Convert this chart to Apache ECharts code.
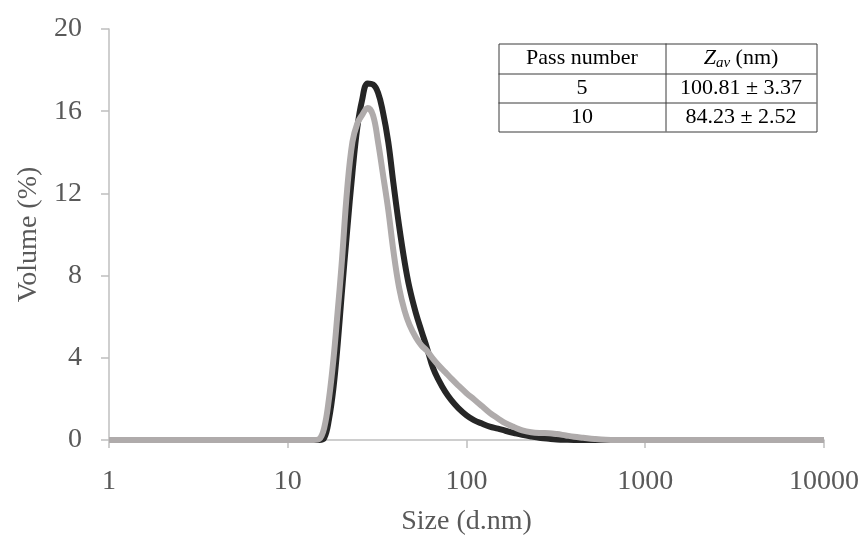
<!DOCTYPE html>
<html>
<head>
<meta charset="utf-8">
<script src="https://cdn.jsdelivr.net/npm/echarts@6/dist/echarts.min.js"></script>
<style>
  html, body { margin: 0; padding: 0; background: #fff; }
  #main { width: 865px; height: 536px; }
</style>
</head>
<body>
<div id="main"></div>
<script>
// particle size bins (d.nm)
var sizes = [1, 14, 15, 16, 17, 18, 19, 20, 21.5, 23, 24.5, 26, 28, 30, 32, 34, 36.5, 39, 42, 45,
             48, 52, 56, 60, 65, 70, 76, 82, 90, 100, 110, 122, 135, 150, 165, 185, 205, 230,
             260, 290, 320, 360, 400, 450, 520, 600, 700, 1000, 10000];

// volume (%) - pass 5 (black)
var pass5 = [0, 0, 0, 0.1, 1.0, 2.5, 4.6, 7.0, 10.2, 13.0, 15.2, 16.5, 17.35, 17.3, 16.9, 16.0, 14.5, 12.5, 10.4, 8.7,
             7.4, 6.2, 5.3, 4.5, 3.5, 2.9, 2.35, 1.95, 1.55, 1.2, 0.97, 0.8, 0.65, 0.55, 0.45, 0.34, 0.25, 0.17,
             0.1, 0.06, 0.03, 0.01, 0, 0, 0, 0, 0, 0, 0];

// volume (%) - pass 10 (grey)
var pass10 = [0, 0, 0.05, 0.6, 2.0, 3.9, 6.2, 8.5, 12.2, 14.5, 15.4, 15.8, 16.15, 15.8, 14.5, 13.0, 11.2, 9.2, 7.4, 6.3,
              5.6, 5.0, 4.6, 4.35, 3.95, 3.62, 3.3, 3.0, 2.65, 2.28, 1.98, 1.65, 1.32, 1.05, 0.82, 0.62, 0.47, 0.38,
              0.34, 0.33, 0.29, 0.22, 0.16, 0.11, 0.05, 0.01, 0, 0, 0];

var xTicks = [1, 10, 100, 1000, 10000];
var yTicks = [0, 4, 8, 12, 16, 20];

// inset table
var tableHead = ['Pass number', '{i|Z}{s|av} (nm)'];
var passNumbers = ['5', '10'];
var zav = ['100.81 \u00b1 3.37', '84.23 \u00b1 2.52'];

var serif = '"Liberation Serif", "Times New Roman", serif';
var axisGrey = '#bfbfbf';
var labelGrey = '#595959';

function pairs(xs, ys) {
    var out = [];
    for (var i = 0; i < xs.length; i++) out.push([xs[i], ys[i]]);
    return out;
}

function buildTable() {
    var w = 318, h = 88, colX = 167, rowH = [30, 59];
    var txt = { fontFamily: serif, fontSize: 22, fill: '#000', align: 'center', verticalAlign: 'middle' };
    var children = [
        { type: 'rect', shape: { x: 0.5, y: 0.5, width: w, height: h }, style: { fill: '#fff', stroke: '#3a3a3a', lineWidth: 1 } },
        { type: 'line', shape: { x1: colX + 0.5, y1: 0, x2: colX + 0.5, y2: h }, style: { stroke: '#3a3a3a', lineWidth: 1 } },
        { type: 'line', shape: { x1: 0, y1: rowH[0] + 0.5, x2: w, y2: rowH[0] + 0.5 }, style: { stroke: '#3a3a3a', lineWidth: 1 } },
        { type: 'line', shape: { x1: 0, y1: rowH[1] + 0.5, x2: w, y2: rowH[1] + 0.5 }, style: { stroke: '#3a3a3a', lineWidth: 1 } }
    ];
    var centres = [colX / 2, (colX + w) / 2];
    var rowMid = [15, 45, 74];
    children.push({ type: 'text', x: centres[0], y: rowMid[0], style: Object.assign({ text: tableHead[0] }, txt) });
    children.push({ type: 'text', x: centres[1], y: rowMid[0], style: Object.assign({
        text: tableHead[1],
        rich: {
            i: { fontFamily: serif, fontSize: 22, fontStyle: 'italic', lineHeight: 24, fill: '#000' },
            s: { fontFamily: serif, fontSize: 15, fontStyle: 'italic', lineHeight: 15, verticalAlign: 'bottom', fill: '#000' }
        }
    }, txt, { lineHeight: 24 }) });
    for (var r = 0; r < passNumbers.length; r++) {
        children.push({ type: 'text', x: centres[0], y: rowMid[r + 1], style: Object.assign({ text: passNumbers[r] }, txt) });
        children.push({ type: 'text', x: centres[1], y: rowMid[r + 1], style: Object.assign({ text: zav[r] }, txt) });
    }
    return { type: 'group', left: 496, top: 41, children: children };
}

function buildChart() {
    var myChart = echarts.init(document.getElementById('main'), null, { renderer: 'canvas' });

    var option = {
        backgroundColor: '#fff',
        animation: false,
        grid: { left: 109, right: 41, top: 29, bottom: 96, outerBoundsMode: 'none' },
        xAxis: {
            type: 'log',
            logBase: 10,
            min: xTicks[0],
            max: xTicks[xTicks.length - 1],
            name: 'Size (d.nm)',
            nameLocation: 'middle',
            nameGap: 68,
            nameTextStyle: { fontFamily: serif, fontSize: 28, color: labelGrey },
            axisLine: { lineStyle: { color: axisGrey, width: 1.5 } },
            axisTick: { show: true, length: 8, lineStyle: { color: axisGrey, width: 1.5 } },
            minorTick: { show: false },
            splitLine: { show: false },
            axisLabel: {
                margin: 28,
                fontFamily: serif, fontSize: 28, color: labelGrey,
                formatter: function (v) { return String(Math.round(v)); }
            }
        },
        yAxis: {
            type: 'value',
            min: yTicks[0],
            max: yTicks[yTicks.length - 1],
            interval: yTicks[1] - yTicks[0],
            name: 'Volume (%)',
            nameLocation: 'middle',
            nameGap: 66,
            nameTextStyle: { fontFamily: serif, fontSize: 28, color: labelGrey },
            axisLine: { show: true, lineStyle: { color: axisGrey, width: 1.5 } },
            axisTick: { show: true, length: 8, lineStyle: { color: axisGrey, width: 1.5 } },
            splitLine: { show: false },
            axisLabel: { margin: 27, fontFamily: serif, fontSize: 28, color: labelGrey }
        },
        series: [
            {
                name: 'Pass 5',
                type: 'line',
                data: pairs(sizes, pass5),
                showSymbol: false,
                smooth: 0.4,
                lineStyle: { color: '#262626', width: 6 },
                itemStyle: { color: '#262626' },
                z: 2
            },
            {
                name: 'Pass 10',
                type: 'line',
                data: pairs(sizes, pass10),
                showSymbol: false,
                smooth: 0.4,
                lineStyle: { color: '#afabab', width: 6 },
                itemStyle: { color: '#afabab' },
                z: 3
            }
        ],
        graphic: [buildTable()]
    };

    myChart.setOption(option);
}

buildChart();
</script>
</body>
</html>
